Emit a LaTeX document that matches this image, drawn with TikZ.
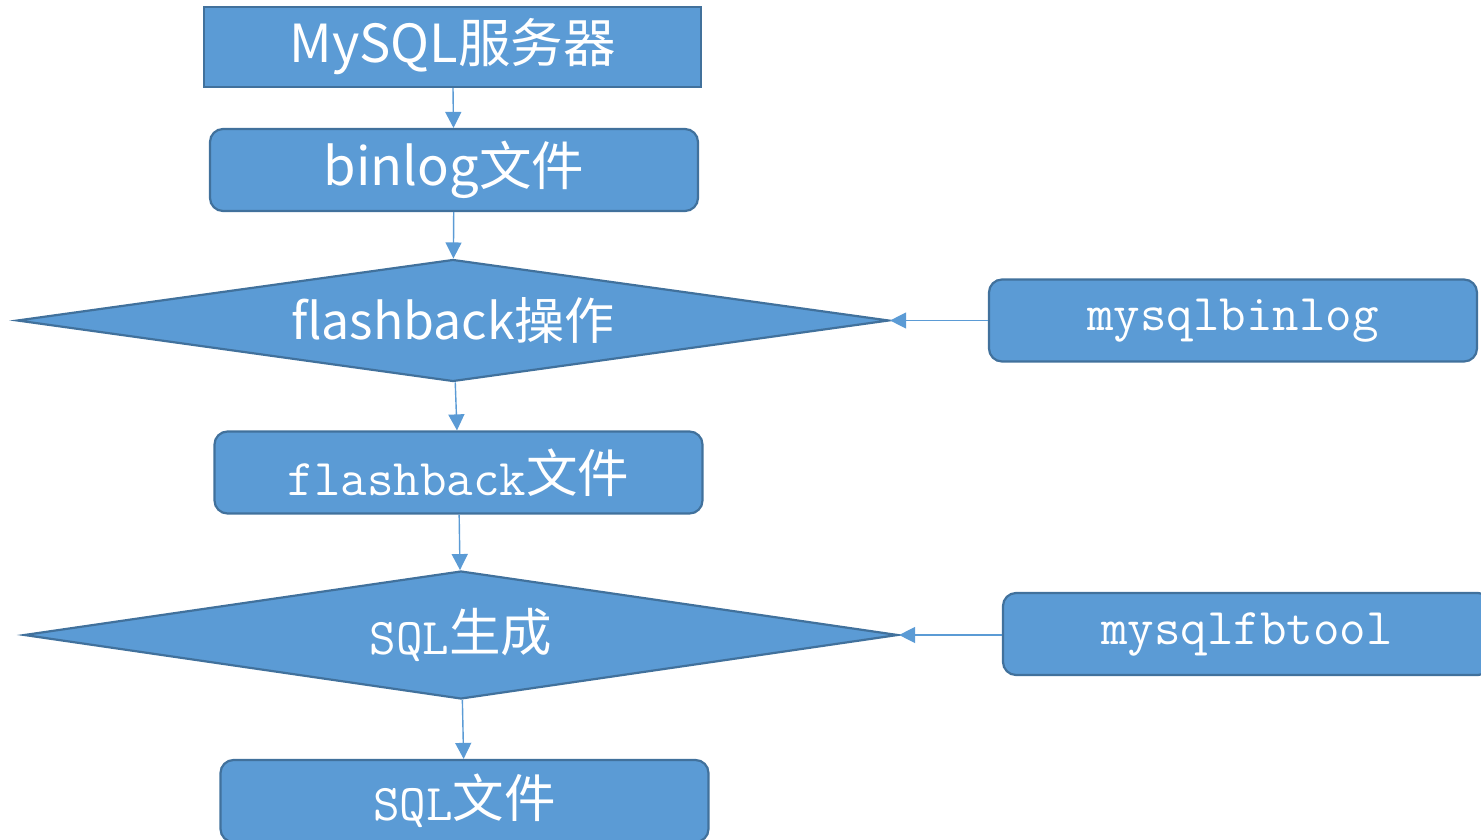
\documentclass[tikz,border=0pt]{standalone}
\usepackage{fontspec}
\usetikzlibrary{shapes.geometric,arrows.meta}
\newfontfamily\cjk{Noto Sans CJK SC}
\definecolor{boxfill}{HTML}{5B9BD5}
\definecolor{boxline}{HTML}{41719C}
\definecolor{arrowc}{HTML}{5B9BD5}
\newcommand{\sansfs}{\cjk\fontsize{52.5}{60}\selectfont}
\newcommand{\sansfsb}{\cjk\fontsize{50}{60}\selectfont}
\newcommand{\monofs}{\ttfamily\fontsize{51.5}{60}\selectfont}
\begin{document}
\begin{tikzpicture}[x=1pt,y=-1pt,
  base/.style={fill=boxfill,draw=boxline,line width=2.2pt,text=white,inner sep=0pt},
  sqbox/.style={base,rectangle,minimum width=497pt,minimum height=80pt},
  rbox/.style={base,rectangle,rounded corners=13pt,minimum width=488pt,minimum height=82pt},
  dia/.style={base,diamond,aspect=7.1,minimum width=#1,minimum height=122pt},
  conn/.style={draw=arrowc,line width=1.4pt,-{Triangle[length=16pt,width=16pt]}}
]
\useasboundingbox (0,0) rectangle (1481,840);
\node[sqbox] (srv) at (452.5,47) {\sansfs MySQL服务器};
\node[rbox] (bin) at (454,170) {\sansfs binlog文件};
\node[dia=872pt] (fb) at (453,320.5) {\sansfsb flashback操作};
\node[rbox] (fbf) at (458.5,472.5) {\monofs\raisebox{-3pt}{flashback}{\cjk 文件}};
\node[dia=874pt,minimum height=128pt] (gen) at (461,635) {\monofs\raisebox{-3pt}{SQL}{\cjk 生成}};
\node[rbox] (sqlf) at (464.5,801) {\monofs\raisebox{-3pt}{SQL}{\cjk 文件}};
\node[rbox] (mb) at (1233,320.5) {\monofs\raisebox{-3pt}{mysqlbinlog}};
\node[rbox] (mf) at (1247,634) {\monofs\raisebox{-3pt}{mysqlfbtool}};
\draw[conn] (srv) -- (bin);
\draw[conn] (bin) -- (fb);
\draw[conn] (fb) -- (fbf);
\draw[conn] (fbf) -- (gen);
\draw[conn] (gen) -- (sqlf);
\draw[conn] (mb.west |- fb.east) -- (fb.east);
\draw[conn] (mf.west |- gen.east) -- (gen.east);
\end{tikzpicture}
\end{document}
